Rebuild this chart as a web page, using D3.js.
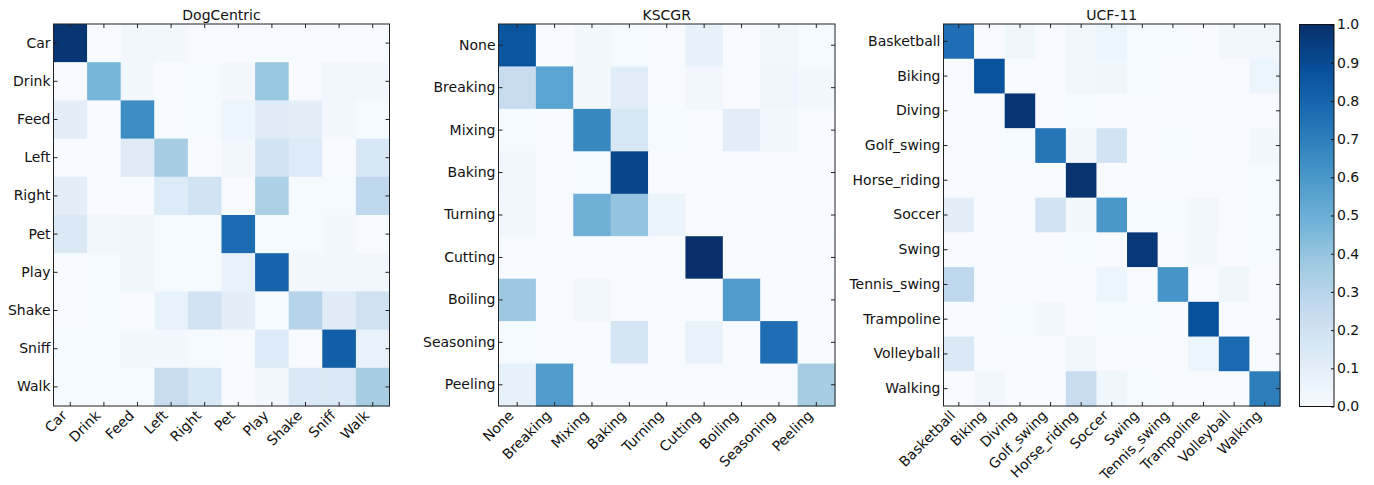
<!DOCTYPE html>
<html>
<head>
<meta charset="utf-8">
<script src="https://cdn.jsdelivr.net/npm/d3@7"></script>
<style>
  body { margin: 0; background: #fff; }
  text { font-family: "DejaVu Sans", sans-serif; fill: #111; }
</style>
</head>
<body>
<script>
var width = 1374,
    height = 485;

// ---- data ----
var dogLabels = ["Car", "Drink", "Feed", "Left", "Right", "Pet", "Play", "Shake", "Sniff", "Walk"];
var dogValues = [
  [0.98, 0.00, 0.03, 0.02, 0.00, 0.00, 0.00, 0.00, 0.00, 0.00],
  [0.00, 0.47, 0.03, 0.00, 0.01, 0.02, 0.39, 0.00, 0.03, 0.02],
  [0.10, 0.00, 0.64, 0.00, 0.01, 0.05, 0.12, 0.10, 0.02, 0.01],
  [0.00, 0.00, 0.12, 0.35, 0.00, 0.03, 0.19, 0.13, 0.00, 0.16],
  [0.10, 0.00, 0.00, 0.13, 0.19, 0.00, 0.33, 0.01, 0.01, 0.27],
  [0.14, 0.03, 0.04, 0.01, 0.01, 0.77, 0.01, 0.01, 0.02, 0.00],
  [0.00, 0.01, 0.04, 0.01, 0.01, 0.07, 0.80, 0.02, 0.02, 0.03],
  [0.00, 0.01, 0.00, 0.07, 0.19, 0.10, 0.01, 0.30, 0.12, 0.20],
  [0.01, 0.01, 0.02, 0.02, 0.01, 0.00, 0.13, 0.00, 0.82, 0.07],
  [0.01, 0.01, 0.01, 0.24, 0.16, 0.00, 0.02, 0.14, 0.14, 0.35]
];

var kscgrLabels = ["None", "Breaking", "Mixing", "Baking", "Turning", "Cutting", "Boiling", "Seasoning", "Peeling"];
var kscgrValues = [
  [0.86, 0.00, 0.02, 0.01, 0.00, 0.08, 0.00, 0.03, 0.01],
  [0.24, 0.55, 0.02, 0.11, 0.00, 0.03, 0.00, 0.04, 0.02],
  [0.01, 0.00, 0.66, 0.16, 0.01, 0.00, 0.11, 0.02, 0.00],
  [0.03, 0.00, 0.01, 0.92, 0.00, 0.00, 0.00, 0.00, 0.00],
  [0.02, 0.00, 0.49, 0.40, 0.06, 0.00, 0.00, 0.00, 0.00],
  [0.00, 0.00, 0.00, 0.00, 0.00, 1.00, 0.00, 0.00, 0.00],
  [0.38, 0.00, 0.03, 0.00, 0.00, 0.00, 0.58, 0.00, 0.00],
  [0.01, 0.00, 0.00, 0.17, 0.00, 0.07, 0.00, 0.76, 0.00],
  [0.08, 0.58, 0.00, 0.00, 0.00, 0.00, 0.00, 0.00, 0.35]
];

var ucfLabels = ["Basketball", "Biking", "Diving", "Golf_swing", "Horse_riding", "Soccer", "Swing", "Tennis_swing", "Trampoline", "Volleyball", "Walking"];
var ucfValues = [
  [0.76, 0.00, 0.04, 0.00, 0.03, 0.05, 0.01, 0.01, 0.00, 0.03, 0.03],
  [0.00, 0.87, 0.00, 0.00, 0.03, 0.04, 0.01, 0.00, 0.00, 0.00, 0.05],
  [0.00, 0.00, 0.98, 0.00, 0.01, 0.00, 0.00, 0.00, 0.00, 0.00, 0.00],
  [0.00, 0.00, 0.01, 0.74, 0.02, 0.19, 0.00, 0.01, 0.00, 0.00, 0.02],
  [0.00, 0.00, 0.00, 0.00, 0.99, 0.00, 0.00, 0.00, 0.00, 0.00, 0.01],
  [0.10, 0.00, 0.00, 0.19, 0.02, 0.60, 0.01, 0.01, 0.03, 0.00, 0.01],
  [0.00, 0.00, 0.00, 0.00, 0.01, 0.00, 0.97, 0.00, 0.02, 0.00, 0.01],
  [0.27, 0.00, 0.00, 0.00, 0.00, 0.05, 0.00, 0.61, 0.00, 0.04, 0.00],
  [0.00, 0.00, 0.01, 0.02, 0.00, 0.01, 0.01, 0.00, 0.88, 0.00, 0.00],
  [0.14, 0.00, 0.00, 0.00, 0.03, 0.00, 0.00, 0.00, 0.05, 0.78, 0.00],
  [0.00, 0.03, 0.00, 0.00, 0.24, 0.04, 0.01, 0.00, 0.00, 0.00, 0.70]
];

var colorbarTicks = [0, 0.1, 0.2, 0.3, 0.4, 0.5, 0.6, 0.7, 0.8, 0.9, 1.0];

// matplotlib "Blues" (piecewise linear through the colorbrewer stops)
var bluesStops = ["#f7fbff", "#deebf7", "#c6dbef", "#9ecae1", "#6baed6", "#4292c6", "#2171b5", "#08519c", "#08306b"];
var color = d3.scaleLinear()
    .domain(d3.range(bluesStops.length).map(function (i) { return i / (bluesStops.length - 1); }))
    .range(bluesStops)
    .clamp(true);

var panels = [
  {title: "DogCentric", labels: dogLabels, values: dogValues, x0: 53.5, x1: 389.5},
  {title: "KSCGR", labels: kscgrLabels, values: kscgrValues, x0: 498.5, x1: 835},
  {title: "UCF-11", labels: ucfLabels, values: ucfValues, x0: 943.5, x1: 1280}
];
var plotTop = 24, plotBottom = 406;
var fontSize = "14px";

var svg = d3.select("body").append("svg")
    .attr("width", width)
    .attr("height", height);

panels.forEach(function (p) {
    var x = d3.scaleBand().domain(p.labels).range([p.x0, p.x1]);
    var y = d3.scaleBand().domain(p.labels).range([plotTop, plotBottom]);
    var g = svg.append("g");

    var cells = [];
    p.values.forEach(function (row, i) {
        row.forEach(function (v, j) {
            cells.push({r: p.labels[i], c: p.labels[j], v: v});
        });
    });

    g.selectAll("rect.cell")
        .data(cells)
        .join("rect")
        .attr("class", "cell")
        .attr("x", function (d) { return x(d.c); })
        .attr("y", function (d) { return y(d.r); })
        .attr("width", x.bandwidth() + 0.5)
        .attr("height", y.bandwidth() + 0.5)
        .attr("fill", function (d) { return color(d.v); });

    // axes, ticks pointing inward like the classic matplotlib style
    var axes = [
        {ax: d3.axisLeft(y).tickSizeInner(-4).tickSizeOuter(0).tickPadding(3), t: "translate(" + p.x0 + ",0)"},
        {ax: d3.axisRight(y).tickSizeInner(-4).tickSizeOuter(0).tickFormat(""), t: "translate(" + p.x1 + ",0)"},
        {ax: d3.axisTop(x).tickSizeInner(-4).tickSizeOuter(0).tickFormat(""), t: "translate(0," + plotTop + ")"},
        {ax: d3.axisBottom(x).tickSizeInner(-4).tickSizeOuter(0), t: "translate(0," + plotBottom + ")", bottom: true}
    ];
    axes.forEach(function (a) {
        var ag = g.append("g").attr("transform", a.t).call(a.ax);
        ag.select(".domain").remove();
        ag.selectAll("line").attr("stroke", "#222");
        ag.selectAll("text").style("font-size", fontSize).attr("fill", "#111");
        if (a.bottom) {
            ag.selectAll("text")
                .attr("text-anchor", "end")
                .attr("dy", "0.35em")
                .attr("y", 0)
                .attr("transform", "translate(-6,7) rotate(-45)");
        }
    });

    g.append("rect")
        .attr("x", p.x0)
        .attr("y", plotTop)
        .attr("width", p.x1 - p.x0)
        .attr("height", plotBottom - plotTop)
        .attr("fill", "none")
        .attr("stroke", "#222")
        .attr("stroke-width", 1);

    g.append("text")
        .attr("x", (p.x0 + p.x1) / 2)
        .attr("y", 19.5)
        .attr("text-anchor", "middle")
        .style("font-size", fontSize)
        .text(p.title);
});

// colorbar
var cbX = 1299.5, cbW = 34.5;
var cbY = d3.scaleLinear().domain([0, 1]).range([406.5, 24.5]);
var defs = svg.append("defs");
var grad = defs.append("linearGradient")
    .attr("id", "cb-grad")
    .attr("x1", "0%").attr("y1", "100%")
    .attr("x2", "0%").attr("y2", "0%");
grad.selectAll("stop")
    .data(d3.range(0, 1.0001, 0.02))
    .join("stop")
    .attr("offset", function (d) { return d; })
    .attr("stop-color", function (d) { return color(d); });

svg.append("rect")
    .attr("x", cbX)
    .attr("y", cbY(1))
    .attr("width", cbW)
    .attr("height", cbY(0) - cbY(1))
    .attr("fill", "url(#cb-grad)")
    .attr("stroke", "#111")
    .attr("stroke-width", 1);

var cbAxis = svg.append("g")
    .attr("transform", "translate(" + (cbX + cbW) + ",0)")
    .call(d3.axisRight(cbY).tickValues(colorbarTicks).tickFormat(d3.format(".1f"))
        .tickSizeInner(-3).tickSizeOuter(0).tickPadding(3));
cbAxis.select(".domain").remove();
cbAxis.selectAll("line").attr("stroke", "#111");
cbAxis.selectAll("text").style("font-size", fontSize).attr("fill", "#111");
</script>
</body>
</html>
